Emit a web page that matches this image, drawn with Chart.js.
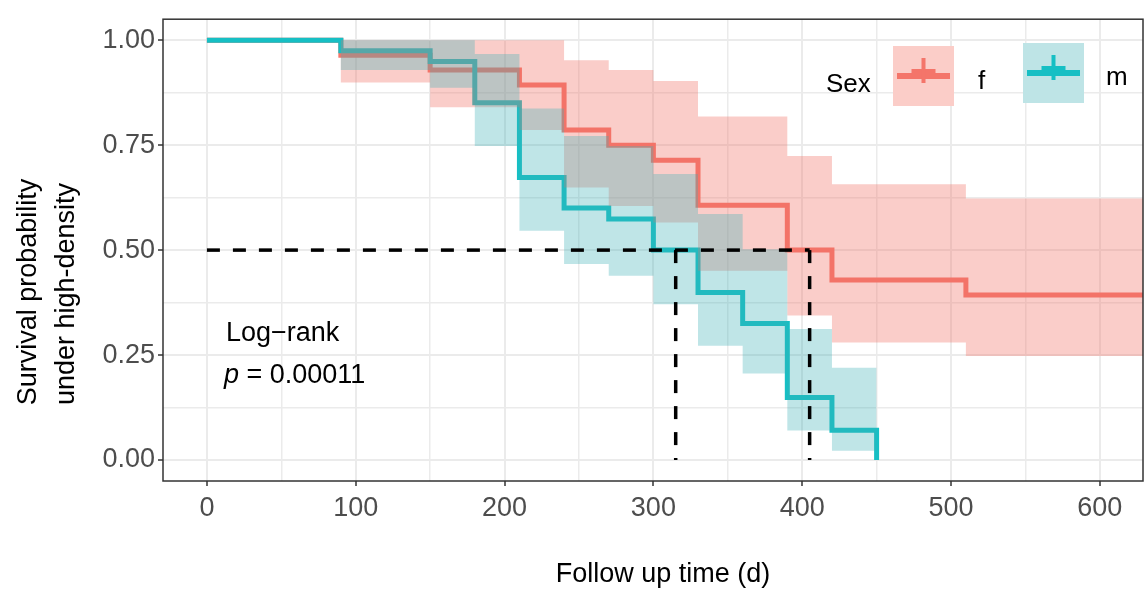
<!DOCTYPE html>
<html>
<head>
<meta charset="utf-8">
<script src="https://cdn.jsdelivr.net/npm/chart.js@4.4.1/dist/chart.umd.min.js"></script>
<style>
  html, body { margin: 0; padding: 0; background: #fff; }
  #wrap { width: 1148px; height: 594px; position: relative; }
</style>
</head>
<body>
<div id="wrap"><canvas id="kmChart"></canvas></div>
<script>
// Kaplan-Meier estimates
// females (f)
const fTime  = [0, 90, 150, 210, 240, 270, 300, 330, 390, 420, 510, 640];
const fSurv  = [1, 0.964, 0.929, 0.893, 0.786, 0.75, 0.714, 0.607, 0.5, 0.429, 0.393, 0.393];
const fUpper = [1, 1, 1, 1, 0.952, 0.929, 0.903, 0.818, 0.724, 0.657, 0.623, 0.623];
const fLower = [1, 0.899, 0.84, 0.786, 0.649, 0.605, 0.566, 0.451, 0.344, 0.28, 0.248, 0.248];

// males (m)
const mTime  = [0, 90, 150, 180, 210, 240, 270, 300, 330, 360, 390, 420, 450];
const mSurv  = [1, 0.975, 0.949, 0.851, 0.673, 0.6, 0.574, 0.5, 0.399, 0.325, 0.149, 0.071, 0];
const mUpper = [1, 1, 1, 0.967, 0.837, 0.772, 0.748, 0.681, 0.586, 0.502, 0.312, 0.22, 0.22];
const mLower = [1, 0.929, 0.887, 0.748, 0.546, 0.467, 0.439, 0.371, 0.272, 0.206, 0.07, 0.022, 0.022];

// median survival times (dashed guides at 0.5)
const medianTimes = [315, 405];
const medianLevel = 0.5;

const xTicks = [0, 100, 200, 300, 400, 500, 600];
const yTicks = [0, 0.25, 0.5, 0.75, 1];

const RED = '#F4756A';
const TEAL = '#16BFC4';
const RED_BAND = 'rgba(241,112,100,0.35)';
const TEAL_BAND = 'rgba(60,175,182,0.33)';

function pts(xs, ys) {
  return xs.map((x, i) => ({ x: x, y: ys[i] }));
}

// stepped: true -> horizontal first, then the drop (survival step)
function stepLine(xs, ys, color, order) {
  return {
    data: pts(xs, ys), stepped: true, borderColor: color, borderWidth: 5,
    pointRadius: 0, fill: false, order: order
  };
}

function band(xs, ys, color, fillTo, order) {
  return {
    data: pts(xs, ys), stepped: true, borderWidth: 0, borderColor: 'rgba(0,0,0,0)',
    pointRadius: 0, backgroundColor: color, fill: fillTo, order: order
  };
}

const maxMedian = Math.max(...medianTimes);
const dashed = {
  borderColor: '#000', borderWidth: 3.5, borderDash: [13, 13], pointRadius: 0,
  fill: false, order: 1
};

const datasets = [
  stepLine(fTime, fSurv, RED, 10),                 // 0
  stepLine(mTime, mSurv, TEAL, 9),                 // 1
  band(fTime, fUpper, RED_BAND, 3, 8),             // 2
  band(fTime, fLower, RED_BAND, false, 8),         // 3
  band(mTime, mUpper, TEAL_BAND, 5, 7),            // 4
  band(mTime, mLower, TEAL_BAND, false, 7),        // 5
  Object.assign({ data: [{ x: 0, y: medianLevel }, { x: maxMedian, y: medianLevel }] }, dashed)
];
medianTimes.forEach(t => {
  datasets.push(Object.assign({ data: [{ x: t, y: medianLevel }, { x: t, y: 0 }] }, dashed));
});

const FONT = '"Liberation Sans", Arial, sans-serif';

const decorations = {
  id: 'decorations',
  afterDraw(chart) {
    const ctx = chart.ctx;
    const a = chart.chartArea;
    ctx.save();
    // panel border
    ctx.strokeStyle = '#333';
    ctx.lineWidth = 1.5;
    ctx.strokeRect(a.left, a.top, a.right - a.left, a.bottom - a.top);

    // axis titles
    ctx.fillStyle = '#000';
    ctx.font = '27px ' + FONT;
    ctx.textAlign = 'center';
    ctx.textBaseline = 'alphabetic';
    ctx.fillText('Follow up time (d)', 663, 582);
    ctx.save();
    ctx.translate(36, 292);
    ctx.rotate(-Math.PI / 2);
    ctx.fillText('Survival probability', 0, 0);
    ctx.restore();
    ctx.save();
    ctx.translate(74, 294);
    ctx.rotate(-Math.PI / 2);
    ctx.fillText('under high-density', 0, 0);
    ctx.restore();

    // log-rank annotation
    ctx.textAlign = 'left';
    ctx.fillText('Log\u2212rank', 226, 341);
    ctx.font = 'italic 27px ' + FONT;
    ctx.fillText('p', 224, 383);
    const pw = ctx.measureText('p').width;
    ctx.font = '27px ' + FONT;
    ctx.fillText(' = 0.00011', 224 + pw, 383);

    // legend
    ctx.font = '26px ' + FONT;
    ctx.fillText('Sex', 826, 92);
    ctx.fillText('f', 978, 89);
    ctx.fillText('m', 1106, 85);
    function key(x, y, w, h, fillCol, lineCol) {
      ctx.fillStyle = fillCol;
      ctx.fillRect(x, y, w, h);
      ctx.fillStyle = lineCol;
      const cy = y + h / 2;
      ctx.fillRect(x + 4, cy - 3, w - 8, 6);
      ctx.fillRect(x + w / 2 - 12, cy - 7, 24, 6);
      ctx.fillRect(x + w / 2 - 2, cy - 18, 4, 25);
    }
    key(893, 46, 61, 60, 'rgb(251,205,200)', RED);
    key(1023, 43, 61, 60, 'rgb(190,228,230)', TEAL);
    ctx.restore();
  }
};

function isMajor(v, ticks) {
  return ticks.some(t => Math.abs(t - v) < 1e-6);
}

new Chart(document.getElementById('kmChart'), {
  type: 'line',
  data: { datasets: datasets },
  options: {
    responsive: true,
    maintainAspectRatio: false,
    animation: false,
    layout: { padding: { top: 18, right: 5, left: 0, bottom: 0 } },
    plugins: { legend: { display: false }, tooltip: { enabled: false } },
    scales: {
      x: {
        type: 'linear', min: -29.5, max: 629,
        afterFit(s) { s.height = 113; },
        border: { display: false },
        grid: {
          color: '#EBEBEB',
          lineWidth: c => isMajor(c.tick.value, xTicks) ? 2 : 1.5,
          tickColor: c => isMajor(c.tick.value, xTicks) ? '#333' : 'rgba(0,0,0,0)',
          tickLength: 5, tickWidth: 1.5
        },
        ticks: {
          stepSize: 50, includeBounds: false, autoSkip: false, maxRotation: 0,
          padding: 6, color: '#4D4D4D', font: { family: FONT, size: 27 },
          callback: v => isMajor(v, xTicks) ? String(v) : ''
        }
      },
      y: {
        type: 'linear', min: -0.05, max: 1.05,
        afterFit(s) { s.width = 163; },
        border: { display: false },
        grid: {
          color: '#EBEBEB',
          lineWidth: c => isMajor(c.tick.value, yTicks) ? 2 : 1.5,
          tickColor: c => isMajor(c.tick.value, yTicks) ? '#333' : 'rgba(0,0,0,0)',
          tickLength: 5, tickWidth: 1.5
        },
        ticks: {
          stepSize: 0.125, includeBounds: false, autoSkip: false,
          padding: 3, color: '#4D4D4D', font: { family: FONT, size: 27 },
          callback: v => isMajor(v, yTicks) ? v.toFixed(2) : ''
        }
      }
    }
  },
  plugins: [decorations]
});
</script>
</body>
</html>
